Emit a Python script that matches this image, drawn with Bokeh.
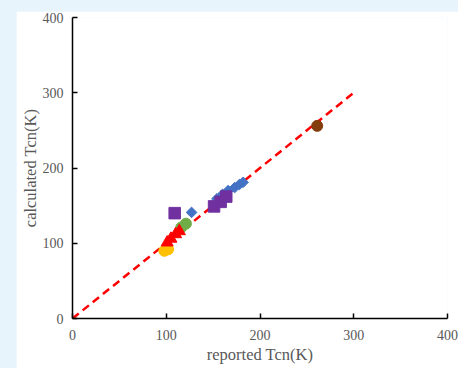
import math
from bokeh.plotting import figure
from bokeh.models import Range1d, FixedTicker, Column
from bokeh.embed import file_html
from bokeh.resources import INLINE

# ---- data ----
blue_x = [127, 154, 160, 166, 173, 178, 182]
blue_y = [141, 159, 165, 170, 174, 178, 181]

purple_x = [109, 151, 158, 164]
purple_y = [140, 149, 155, 162]

green_x = [116, 121]
green_y = [121, 126]

red_x = [101, 105, 110, 114]
red_y = [101, 106, 112, 116]

yellow_x = [98, 102]
yellow_y = [90, 92]

brown_x = [261]
brown_y = [256]

ref_x = [0, 300]
ref_y = [0, 300]

ticks = [0, 100, 200, 300, 400]

FONT = "Liberation Serif"
GRAY = "#595959"

p = figure(width=442, height=357, output_backend="svg", toolbar_location=None,
           x_range=Range1d(0, 400), y_range=Range1d(0, 400),
           min_border_left=56, min_border_right=11, min_border_top=6, min_border_bottom=50,
           border_fill_color="white", background_fill_color="white",
           outline_line_color=None, margin=(11, 0, 0, 16))

p.xgrid.visible = False
p.ygrid.visible = False

for ax in (p.xaxis[0], p.yaxis[0]):
    ax.ticker = FixedTicker(ticks=ticks)
    ax.minor_tick_line_color = None
    ax.major_tick_in = 5
    ax.major_tick_out = 0
    ax.major_tick_line_color = "black"
    ax.major_tick_line_width = 1.5
    ax.axis_line_color = "black"
    ax.axis_line_width = 1.5
    ax.major_label_text_font = FONT
    ax.major_label_text_font_size = "14px"
    ax.major_label_text_color = GRAY
    ax.axis_label_text_font = FONT
    ax.axis_label_text_font_size = "16.5px"
    ax.axis_label_text_color = GRAY
    ax.axis_label_text_font_style = "normal"

p.xaxis.axis_label = "reported Tcn(K)"
p.yaxis.axis_label = "calculated Tcn(K)"
p.xaxis.major_label_standoff = 11
p.yaxis.major_label_standoff = 9
p.xaxis.axis_label_standoff = 2
p.yaxis.axis_label_standoff = 0

p.line(ref_x, ref_y, line_color="#FF0000", line_width=2.5, line_dash="8 5")

p.scatter(blue_x, blue_y, marker="square", angle=math.pi / 4, size=7.5,
          fill_color="#4472C4", line_color="#4472C4")
p.scatter(purple_x, purple_y, marker="square", size=11.5,
          fill_color="#7030A0", line_color="#7030A0")
p.scatter(green_x, green_y, marker="circle", size=11,
          fill_color="#70AD47", line_color="#70AD47")
p.scatter(yellow_x, yellow_y, marker="circle", size=11,
          fill_color="#FFC000", line_color="#FFC000")
p.scatter(red_x, red_y, marker="triangle", size=12,
          fill_color="#FF0000", line_color="#FF0000")
p.scatter(brown_x, brown_y, marker="circle", size=11,
          fill_color="#843C0C", line_color="#843C0C")

layout = Column(children=[p], width=458, height=368,
                styles={"background-color": "#E8F4FC"})

html = file_html(layout, INLINE)
html = html.replace("<body>", '<body style="margin:0;background-color:#E8F4FC;">', 1)
open("out.html", "w").write(html)
